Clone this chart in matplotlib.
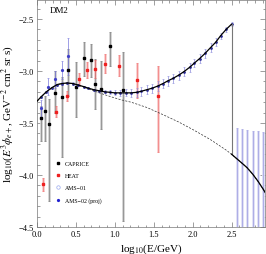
import numpy as np
import matplotlib
matplotlib.use("Agg")
import matplotlib.pyplot as plt
from matplotlib.lines import Line2D
from matplotlib.ticker import MultipleLocator

plt.rcParams['font.family'] = ['Liberation Serif', 'DejaVu Serif']
plt.rcParams['mathtext.fontset'] = 'stix'

# total model (signal + background), up to the cutoff
tot_x = [0.00, 0.05, 0.12, 0.19, 0.26, 0.32, 0.39, 0.46, 0.53, 0.60, 0.66, 0.73,
         0.80, 0.87, 0.94, 1.00, 1.07, 1.14, 1.21, 1.28, 1.34, 1.41, 1.48, 1.55,
         1.62, 1.68, 1.75, 1.82, 1.89, 1.96, 2.02, 2.09, 2.16, 2.23, 2.30, 2.36,
         2.43, 2.50]
tot_y = [-3.29, -3.25, -3.20, -3.16, -3.13, -3.12, -3.115, -3.12, -3.135, -3.15,
         -3.165, -3.18, -3.19, -3.20, -3.205, -3.21, -3.21, -3.21, -3.21, -3.205,
         -3.195, -3.18, -3.165, -3.145, -3.12, -3.095, -3.07, -3.04, -3.005, -2.965,
         -2.925, -2.88, -2.83, -2.775, -2.72, -2.66, -2.60, -2.55]

# background only (dashed)
bg_x = [0.00, 0.12, 0.26, 0.39, 0.53, 0.66, 0.80, 0.94, 1.07, 1.21, 1.41, 1.62,
        1.82, 2.02, 2.23, 2.43, 2.50, 2.57, 2.64, 2.70, 2.77, 2.84, 2.91, 2.95]
bg_y = [-3.29, -3.20, -3.13, -3.115, -3.135, -3.17, -3.21, -3.245, -3.275, -3.30,
        -3.35, -3.42, -3.49, -3.57, -3.66, -3.76, -3.80, -3.845, -3.89, -3.93,
        -3.99, -4.06, -4.14, -4.19]

# CAPRICE
cap_x = [0.05, 0.10, 0.16, 0.23, 0.32, 0.40, 0.50, 0.60, 0.69, 0.75, 0.82, 0.94, 1.10]
cap_y = [-3.45, -3.38, -3.51, -3.21, -3.25, -2.99, -3.15, -2.87, -2.89, -3.12, -3.17, -2.76, -3.18]
cap_hi = [-3.34, -3.24, -3.27, -3.00, -3.06, -2.79, -2.91, -2.72, -2.74, -2.88, -2.90, -2.62, -2.82]
cap_lo = [-3.67, -3.67, -4.25, -3.40, -3.83, -3.24, -3.44, -3.05, -3.06, -3.37, -3.56, -2.95, -4.44]

# HEAT
heat_x = [0.08, 0.24, 0.38, 0.54, 0.64, 0.75, 0.87, 1.05, 1.29, 1.55]
heat_y = [-4.09, -3.39, -3.24, -3.08, -2.99, -2.98, -2.93, -2.95, -3.09, -3.24]
heat_hi = [-4.03, -3.34, -3.19, -3.02, -2.91, -2.89, -2.84, -2.85, -2.92, -2.95]
heat_lo = [-4.15, -3.44, -3.29, -3.14, -3.07, -3.07, -3.02, -3.05, -3.26, -3.78]

# AMS-01
ams1_x = [0.05, 0.14, 0.23, 0.32, 0.40]
ams1_y = [-3.36, -3.15, -3.08, -2.99, -2.86]
ams1_err = [0.08, 0.08, 0.08, 0.09, 0.18]

# AMS-02 projection (sits on the model)
ams2_err = [0.01, 0.01, 0.01, 0.01, 0.01, 0.01, 0.01, 0.01, 0.01, 0.01, 0.01, 0.01,
            0.012, 0.015, 0.02, 0.025, 0.03, 0.035, 0.04, 0.045, 0.045, 0.045, 0.045,
            0.045, 0.045, 0.045, 0.045, 0.045, 0.045, 0.045, 0.04, 0.04, 0.04, 0.04,
            0.035, 0.03, 0.025, 0.02]
ams2_hx = [2.57, 2.64, 2.70, 2.77, 2.84, 2.91]
ams2_hy = [-3.845, -3.89, -3.93, -3.99, -4.06, -4.14]
ams2_htop = [-3.55, -3.56, -3.57, -3.575, -3.58, -3.59]

fig = plt.figure(figsize=(2.66, 2.55), dpi=100)
ax = fig.add_axes([37/266, 1-228/255, 228/266, 227/255])

# CAPRICE
cy = np.array(cap_y)
cerr = [cy - np.array(cap_lo), np.array(cap_hi) - cy]
ax.errorbar(cap_x, cap_y, yerr=cerr, fmt='none', ecolor='#d2d2d2', elinewidth=2.0, zorder=2)
ax.errorbar(cap_x, cap_y, yerr=cerr, fmt='s', color='black', ms=1.8, ecolor='#6a6a6a',
            elinewidth=0.4, capsize=1.0, capthick=0.4, zorder=3)

# HEAT
hy = np.array(heat_y)
herr = [hy - np.array(heat_lo), np.array(heat_hi) - hy]
ax.errorbar(heat_x, heat_y, yerr=herr, fmt='none', ecolor='#f9cccc', elinewidth=2.0, zorder=2)
ax.errorbar(heat_x, heat_y, yerr=herr, fmt='s', color='#ee2020', ms=1.8, ecolor='#f06060',
            elinewidth=0.4, capsize=1.0, capthick=0.4, zorder=3)

# AMS-01
ax.errorbar(ams1_x, ams1_y, yerr=ams1_err, fmt='o', ms=1.3, mfc='#4040c8', mec='#4040c8',
            ecolor='#7878dc', elinewidth=0.5, capsize=1.0, capthick=0.4, zorder=3)

# AMS-02 projection
ax.errorbar(tot_x[1:], tot_y[1:], yerr=ams2_err[1:], fmt='o', ms=1.0, color='#30309a',
            ecolor='#8c8cdc', elinewidth=0.5, capsize=1.0, capthick=0.4, zorder=4)
hy2 = np.array(ams2_hy)
herr2 = [np.full(len(hy2), 2.0), np.array(ams2_htop) - hy2]
ax.errorbar(ams2_hx, ams2_hy, yerr=herr2, fmt='none', ecolor='#dedef5', elinewidth=2.0, zorder=2)
ax.errorbar(ams2_hx, ams2_hy, yerr=herr2, fmt='none', ecolor='#9a9ae0', elinewidth=0.5,
            capsize=1.0, capthick=0.4, zorder=3)

# model curves
ax.plot(bg_x, bg_y, color='#333333', lw=0.5, ls=(0, (3, 2)), zorder=5)
ax.plot(tot_x, tot_y, color='black', lw=0.9, zorder=5)
ax.plot([2.50, 2.50], [tot_y[-1], bg_y[16]], color='#777777', lw=0.8, zorder=5)
ax.plot(bg_x[16:], bg_y[16:], color='black', lw=0.9, zorder=5)

ax.set_xlim(0, 2.93)
ax.set_ylim(-4.5, -2.317)
ax.xaxis.set_major_locator(MultipleLocator(0.5))
ax.xaxis.set_minor_locator(MultipleLocator(0.1))
ax.yaxis.set_major_locator(MultipleLocator(0.5))
ax.yaxis.set_minor_locator(MultipleLocator(0.1))
ax.tick_params(which='both', direction='in', top=True, right=True, labelsize=6, width=0.5,
               color='#777777', pad=2)
ax.tick_params(which='major', length=3.5)
ax.tick_params(which='minor', length=1.8)
for s in ax.spines.values():
    s.set_linewidth(0.5)
    s.set_color('#777777')

ax.set_xlabel(r'log$_{10}$(E/GeV)', fontsize=8, labelpad=3)
ax.set_ylabel(r'log$_{10}$($E^3\phi_{e+}$, GeV$^{-2}$ cm$^2$ sr s)', fontsize=8, labelpad=2)
ax.text(0.057, 0.958, 'DM2', transform=ax.transAxes, fontsize=6.5, va='center', ha='left')

handles = [Line2D([], [], ls='none', marker='s', ms=2, color='black'),
           Line2D([], [], ls='none', marker='s', ms=2, color='#ee2020'),
           Line2D([], [], ls='none', marker='o', ms=2.5, mfc='none', mec='#9aa8ee', mew=0.5),
           Line2D([], [], ls='none', marker='o', ms=1.3, color='#2020d0')]
labels = ['CAPRICE', 'HEAT', 'AMS\u221201', 'AMS\u221202 (proj)']
ax.legend(handles, labels, loc='upper left', bbox_to_anchor=(0.07, 0.30), frameon=False,
          fontsize=4.2, handlelength=0.8, handletextpad=0.9, labelspacing=1.2,
          borderaxespad=0)

fig.savefig('out.png', dpi=100)
